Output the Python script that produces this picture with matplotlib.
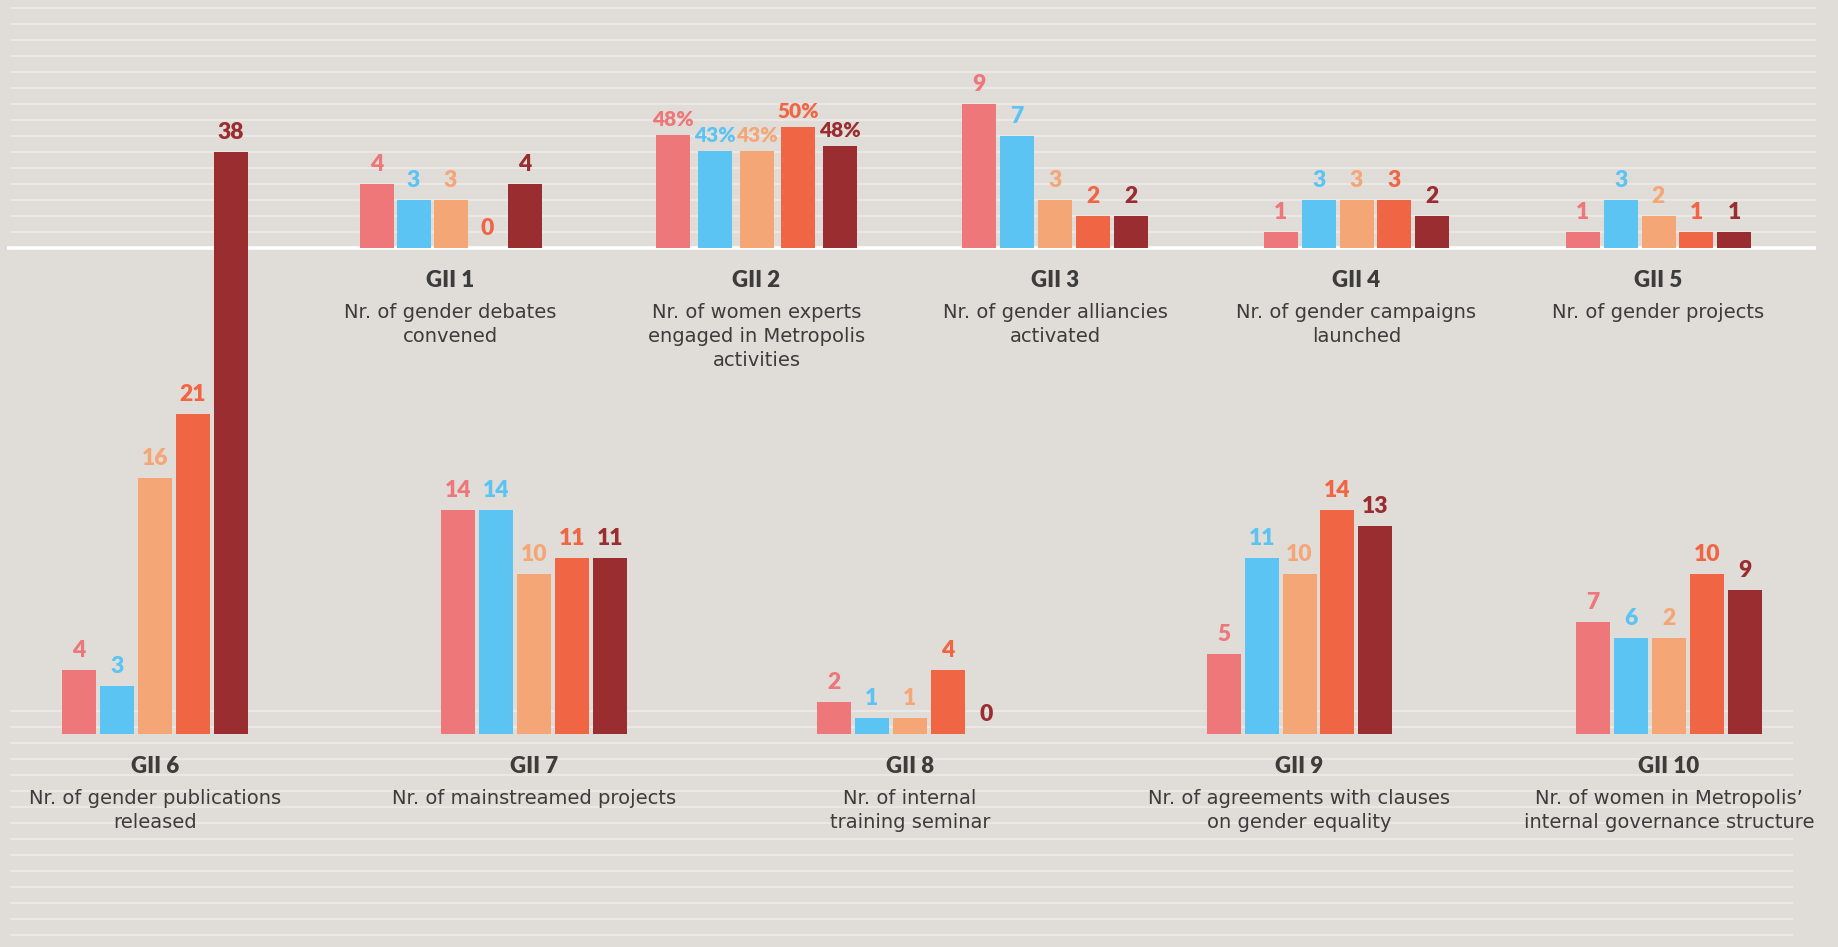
import matplotlib
matplotlib.use("Agg")
import matplotlib.pyplot as plt

# ---------------- data ----------------
series_colors = ["#EE7779", "#5BC4F2", "#F5A676", "#F06644", "#992D30"]

titles_top = ["GII 1", "GII 2", "GII 3", "GII 4", "GII 5"]
desc_top = [
    "Nr. of gender debates\nconvened",
    "Nr. of women experts\nengaged in Metropolis\nactivities",
    "Nr. of gender alliancies\nactivated",
    "Nr. of gender campaigns\nlaunched",
    "Nr. of gender projects",
]
titles_bottom = ["GII 6", "GII 7", "GII 8", "GII 9", "GII 10"]
desc_bottom = [
    "Nr. of gender publications\nreleased",
    "Nr. of mainstreamed projects",
    "Nr. of internal\ntraining seminar",
    "Nr. of agreements with clauses\non gender equality",
    "Nr. of women in Metropolis’\ninternal governance structure",
]

gii1_vals = [4, 3, 3, 0, 4]
gii2_pct = [48, 43, 43, 50, 48]
gii2_bar = [7.06, 6.06, 6.06, 7.56, 6.4]      # drawn bar heights
gii3_vals = [9, 7, 3, 2, 2]
gii4_vals = [1, 3, 3, 3, 2]
gii5_vals = [1, 3, 2, 1, 1]
gii6_vals = [4, 3, 16, 21, 38]
gii6_bar = [4, 3, 16, 20, 36.4]               # drawn bar heights
gii7_vals = [14, 14, 10, 11, 11]
gii8_vals = [2, 1, 1, 4, 0]
gii9_vals = [5, 11, 10, 14, 13]
gii10_vals = [7, 6, 2, 10, 9]
gii10_bar = [7, 6, 6, 10, 9]                  # drawn bar heights

top_heights = [gii1_vals, gii2_bar, gii3_vals, gii4_vals, gii5_vals]
top_labels = [[str(v) for v in gii1_vals], [f"{v}%" for v in gii2_pct],
              [str(v) for v in gii3_vals], [str(v) for v in gii4_vals],
              [str(v) for v in gii5_vals]]
bot_heights = [gii6_bar, gii7_vals, gii8_vals, gii9_vals, gii10_bar]
bot_labels = [[str(v) for v in gii6_vals], [str(v) for v in gii7_vals],
              [str(v) for v in gii8_vals], [str(v) for v in gii9_vals],
              [str(v) for v in gii10_vals]]

# ---------------- layout (pixels) ----------------
W, H = 1838, 947
PX = 16.0                      # pixels per grid unit
top_base, bot_base = 248.3, 734.0
top_centers = [450.5, 756.5, 1055, 1356.5, 1658.5]
top_pitch = [37, 41.75, 38, 37.8, 37.8]
bot_centers = [155, 534, 910, 1299.5, 1669]
bot_pitch = [38, 38, 38, 37.8, 38]
bar_w = 34

BG = "#E0DCD8"
GRID = "#EBE8E5"
TXT = "#3C3C3B"
FONT = ["Lato", "DejaVu Sans"]
DESC_FONT = ["DejaVu Sans"]

plt.rcParams["font.family"] = FONT

fig = plt.figure(figsize=(W / 100, H / 100), dpi=100, facecolor=BG)


def make_axes(base):
    ax = fig.add_axes([0, 0, 1, 1])
    ax.set_xlim(0, W)
    ax.set_ylim(-(H - base) / PX, base / PX)
    ax.axis("off")
    ax.patch.set_visible(False)
    return ax


ax_top = make_axes(top_base)
ax_bot = make_axes(bot_base)

# grid lines
for k in range(1, 16):
    ax_top.hlines(k, 11, 1816, color=GRID, lw=1.4, zorder=0)
ax_top.hlines(0, 7, 1816, color="white", lw=2.6, zorder=1)
for j in range(15):
    ax_bot.hlines((bot_base - 711) / PX - j, 10, 1793, color=GRID, lw=1.4, zorder=0)


def draw_row(ax, centers, pitches, heights, labels, titles, descs, pct_group=None):
    for g, (c, p, hs, ls) in enumerate(zip(centers, pitches, heights, labels)):
        xs = [c + (i - 2) * p for i in range(5)]
        ax.bar(xs, hs, width=bar_w, color=series_colors, zorder=3, linewidth=0)
        is_pct = (g == pct_group)
        gap = 9 if is_pct else 13
        fs = 15 if is_pct else 16.5
        for x, h, lab, col in zip(xs, hs, ls, series_colors):
            ax.text(x, h + gap / PX, lab, ha="center", va="baseline", color=col,
                    fontsize=fs, fontweight="heavy", zorder=4)
        ax.text(c, -39 / PX, titles[g], ha="center", va="baseline", color=TXT,
                fontsize=16, fontweight="heavy")
        for li, line in enumerate(descs[g].split("\n")):
            ax.text(c, -(70 + 24 * li) / PX, line, ha="center", va="baseline",
                    color=TXT, fontsize=14, family=DESC_FONT)


draw_row(ax_top, top_centers, top_pitch, top_heights, top_labels, titles_top, desc_top, pct_group=1)
draw_row(ax_bot, bot_centers, bot_pitch, bot_heights, bot_labels, titles_bottom, desc_bottom)

fig.savefig("out.png", dpi=100, facecolor=BG)
